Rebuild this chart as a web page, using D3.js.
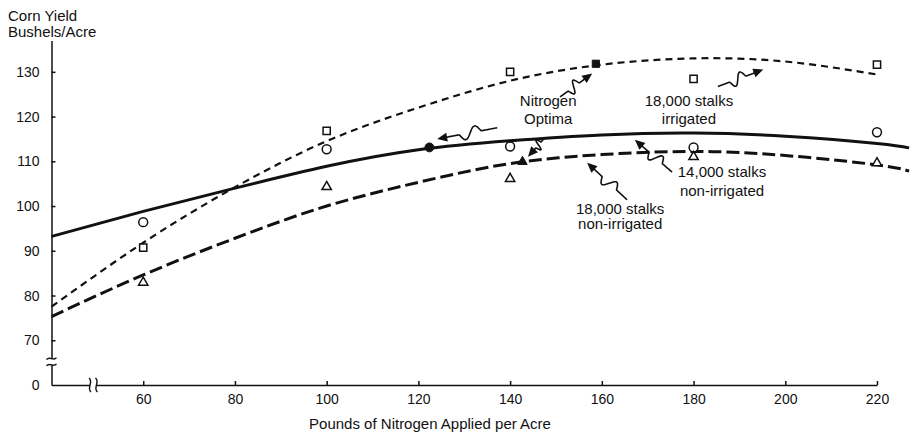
<!DOCTYPE html>
<html>
<head>
<meta charset="utf-8">
<script src="https://cdn.jsdelivr.net/npm/d3@7"></script>
<style>
    body { margin: 0; background: #fff; }
    text { font-family: "Liberation Sans", Arial, sans-serif; fill: #111; }
</style>
</head>
<body>
<svg id="chart" width="911" height="436"></svg>
<script>
    "use strict";

    //Fitted response curves at these nitrogen rates
    var curveN = [40, 60, 80, 100, 120, 140, 160, 180, 200, 220, 227];
    var irr18Curve = [77.5, 91.8, 104.2, 114.5, 122.0, 128.0, 131.6, 133.0, 132.3, 129.4, null];
    var nonIrr14Curve = [93.2, 98.8, 104.0, 108.9, 112.6, 114.6, 115.9, 116.3, 115.6, 114.0, 113.0];
    var nonIrr18Curve = [75.3, 84.6, 92.8, 100.0, 105.3, 109.5, 111.5, 112.2, 111.3, 109.2, 107.8];

    //Observed yields
    var rateN = [60, 100, 140, 180, 220];
    var irr18Obs = [90.7, 116.8, 130.0, 128.4, 131.6];
    var nonIrr14Obs = [96.4, 112.7, 113.3, 113.1, 116.5];
    var nonIrr18Obs = [82.9, 104.3, 106.1, 111.0, 109.6];

    //Nitrogen optima (square, circle, triangle)
    var optimaN = [158.7, 122.4, 142.7];
    var optimaYield = [131.8, 113.1, 109.9];

    //Tick labels
    var xTicks = [60, 80, 100, 120, 140, 160, 180, 200, 220];
    var yTicks = [60, 70, 80, 90, 100, 110, 120, 130];

    var svg = d3.select("#chart");

    var x = d3.scaleLinear().domain([40, 220]).range([51.5, 877]);
    var y = d3.scaleLinear().domain([60, 137]).range([385, 40.5]);

    //Axes
    var xAxis = svg.append("g")
        .attr("transform", "translate(0," + y(60) + ")")
        .call(d3.axisBottom(x).tickValues(xTicks).tickSizeInner(-4).tickSizeOuter(0).tickPadding(9));

    var yAxis = svg.append("g")
        .attr("transform", "translate(" + x(40) + ",0)")
        .call(d3.axisLeft(y).tickValues(yTicks).tickSizeInner(-4).tickSizeOuter(0).tickPadding(12)
            .tickFormat(function (d) { return d === 60 ? "0" : d; }));

    [xAxis, yAxis].forEach(function (a) {
        a.selectAll("path, line").attr("stroke", "#111").attr("stroke-width", 1.5);
        a.selectAll("text").style("font-size", "14px").attr("fill", "#111");
    });
    yAxis.selectAll(".tick").filter(function (d) { return d === 60; }).select("line").remove();

    //Axis breaks
    var breakY = [65.9, 64.5];
    var breakX = [48.4, 49.8];
    svg.append("rect")
        .attr("x", x(40) - 4).attr("y", y(breakY[0])).attr("width", 8)
        .attr("height", y(breakY[1]) - y(breakY[0])).attr("fill", "#fff");
    breakY.forEach(function (v) {
        var cx = x(40), cy = y(v);
        svg.append("path")
            .attr("d", "M" + (cx - 5) + "," + (cy + 1) + " C" + (cx - 2) + "," + (cy - 3) + " " + (cx + 2) + "," + (cy + 3) + " " + (cx + 5) + "," + (cy - 1))
            .attr("fill", "none").attr("stroke", "#111").attr("stroke-width", 1.4);
    });
    svg.append("rect")
        .attr("x", x(breakX[0])).attr("y", y(60) - 4)
        .attr("width", x(breakX[1]) - x(breakX[0])).attr("height", 8).attr("fill", "#fff");
    breakX.forEach(function (n) {
        var cx = x(n), cy = y(60);
        svg.append("path")
            .attr("d", "M" + (cx - 1) + "," + (cy - 7) + " C" + (cx + 4) + "," + (cy - 3) + " " + (cx - 4) + "," + (cy + 3) + " " + (cx + 1) + "," + (cy + 7))
            .attr("fill", "none").attr("stroke", "#111").attr("stroke-width", 1.4);
    });

    //Axis titles
    svg.append("text").attr("x", 8).attr("y", 21).style("font-size", "15px").text("Corn Yield");
    svg.append("text").attr("x", 8).attr("y", 37).style("font-size", "15px").text("Bushels/Acre");
    svg.append("text").attr("x", 430).attr("y", 429).attr("text-anchor", "middle")
        .style("font-size", "15px").text("Pounds of Nitrogen Applied per Acre");

    //Curves
    var line = d3.line()
        .defined(function (d) { return d[1] != null; })
        .x(function (d) { return x(d[0]); })
        .y(function (d) { return y(d[1]); })
        .curve(d3.curveNatural);

    function pairs(vals) { return curveN.map(function (n, i) { return [n, vals[i]]; }); }

    svg.append("path").datum(pairs(nonIrr14Curve)).attr("d", line)
        .attr("fill", "none").attr("stroke", "#111").attr("stroke-width", 3);
    svg.append("path").datum(pairs(irr18Curve)).attr("d", line)
        .attr("fill", "none").attr("stroke", "#111").attr("stroke-width", 2.2).attr("stroke-dasharray", "7,5");
    svg.append("path").datum(pairs(nonIrr18Curve)).attr("d", line)
        .attr("fill", "none").attr("stroke", "#111").attr("stroke-width", 3).attr("stroke-dasharray", "13,5");

    //Observed markers
    var sym = {
        square: d3.symbol().type(d3.symbolSquare).size(52),
        circle: d3.symbol().type(d3.symbolCircle).size(62),
        triangle: d3.symbol().type(d3.symbolTriangle).size(38)
    };

    function markers(vals, shape) {
        svg.append("g").selectAll("path")
            .data(rateN.map(function (n, i) { return [n, vals[i]]; }))
            .join("path")
            .attr("transform", function (d) { return "translate(" + x(d[0]) + "," + y(d[1]) + ")"; })
            .attr("d", sym[shape])
            .attr("fill", "#fff").attr("stroke", "#111").attr("stroke-width", 1.5);
    }
    markers(irr18Obs, "square");
    markers(nonIrr14Obs, "circle");
    markers(nonIrr18Obs, "triangle");

    ["square", "circle", "triangle"].forEach(function (shape, i) {
        svg.append("path")
            .attr("transform", "translate(" + x(optimaN[i]) + "," + y(optimaYield[i]) + ")")
            .attr("d", sym[shape])
            .attr("fill", "#111").attr("stroke", "#111").attr("stroke-width", 1);
    });

    //Labels
    var labels = [
        { lines: ["Nitrogen", "Optima"], n: 148.3, v: [122.3, 118.4] },
        { lines: ["18,000 stalks", "irrigated"], n: 179.0, v: [122.4, 118.3] },
        { lines: ["14,000 stalks", "non-irrigated"], n: 186.2, v: [106.4, 102.2] },
        { lines: ["18,000 stalks", "non-irrigated"], n: 164.0, v: [98.2, 94.8] }
    ];
    labels.forEach(function (l) {
        l.lines.forEach(function (t, i) {
            svg.append("text")
                .attr("x", x(l.n)).attr("y", y(l.v[i]))
                .attr("text-anchor", "middle").style("font-size", "15px")
                .text(t);
        });
    });

    //Squiggly arrows: tail -> head, in data units
    var arrows = [
        { from: [150.9, 124.4], to: [157.9, 129.6] },
        { from: [137.2, 117.5], to: [124.1, 115.0] },
        { from: [147.6, 115.3], to: [143.9, 111.0] },
        { from: [185.3, 126.7], to: [195.2, 130.5] },
        { from: [175.3, 107.6], to: [167.2, 114.8] },
        { from: [165.5, 101.4], to: [156.8, 109.7] }
    ];

    var smooth = d3.line().curve(d3.curveBasis);

    arrows.forEach(function (a) {
        var x0 = x(a.from[0]), y0 = y(a.from[1]), x1 = x(a.to[0]), y1 = y(a.to[1]);
        var dx = x1 - x0, dy = y1 - y0, L = Math.hypot(dx, dy);
        var ux = dx / L, uy = dy / L, px = -uy, py = ux;
        var amp = Math.min(6, L * 0.2);
        var pts = [];
        for (var i = 0; i <= 60; i++) {
            var t = i / 60, off = 0;
            if (t > 0.3 && t < 0.7) off = amp * Math.sin((t - 0.3) / 0.4 * 2 * Math.PI);
            var along = t * (L - 6);
            pts.push([x0 + ux * along + px * off, y0 + uy * along + py * off]);
        }
        svg.append("path").attr("d", smooth(pts))
            .attr("fill", "none").attr("stroke", "#111").attr("stroke-width", 1.6);
        var bx = x1 - ux * 10, by = y1 - uy * 10;
        svg.append("path")
            .attr("d", "M" + x1 + "," + y1 + "L" + (bx + px * 4.5) + "," + (by + py * 4.5) + "L" + (bx - px * 4.5) + "," + (by - py * 4.5) + "Z")
            .attr("fill", "#111");
    });
</script>
</body>
</html>
